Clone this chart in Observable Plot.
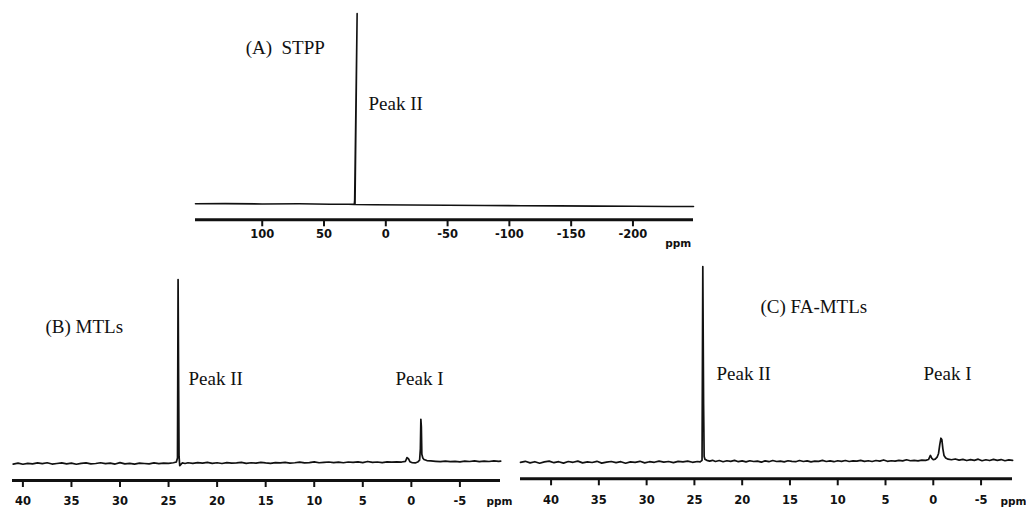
<!DOCTYPE html>
<html>
<head>
<meta charset="utf-8">
<script src="https://cdn.jsdelivr.net/npm/d3@7"></script>
<script src="https://cdn.jsdelivr.net/npm/@observablehq/plot@0.6"></script>
<style>
  html, body { margin: 0; padding: 0; background: #fff; }
  #chart { position: relative; width: 1026px; height: 507px; overflow: hidden; background: #fff; }
  #chart svg { position: absolute; left: 0; top: 0; background: transparent !important; overflow: visible; }
</style>
</head>
<body>
<div id="chart"></div>
<script>
// ---- tick labels ----
const ticksA = [100, 50, 0, -50, -100, -150, -200];
const ticksBC = [40, 35, 30, 25, 20, 15, 10, 5, 0, -5];

// ---- spectra: [ppm, intensity] (intensity: tallest peak = 100) ----
const spectrumA = [
  [154, 0.0], [130, 0.1], [100, -0.1], [70, 0.0], [45, -0.2], [30, -0.2], [25.5, -0.3],
  [25.2, 2], [23.2, 100], [24.9, -0.4],
  [10, -0.5], [-20, -0.6], [-50, -0.8], [-80, -0.9], [-110, -1.0], [-140, -1.1],
  [-170, -1.2], [-200, -1.3], [-230, -1.4], [-249, -1.4]
];

const spectrumB = [
  [41.0,-0.3],[40.5,0.2],[40.0,-0.4],[39.5,0.1],[39.0,-0.2],[38.5,0.3],[38.0,-0.1],[37.5,0.4],
  [37.0,-0.3],[36.5,0.0],[36.0,0.3],[35.5,-0.2],[35.0,0.2],[34.5,-0.4],[34.0,0.1],[33.5,0.3],
  [33.0,-0.2],[32.5,0.0],[32.0,0.4],[31.5,-0.1],[31.0,0.2],[30.5,-0.3],[30.0,0.5],[29.5,-0.2],
  [29.0,0.1],[28.5,-0.3],[28.0,0.2],[27.5,0.0],[27.0,-0.2],[26.5,0.3],[26.0,-0.1],[25.5,0.2],
  [25.0,0.1],[24.5,0.4],[24.2,0.8],[24.08,3],[24.02,100],[23.96,40],[23.92,4],[23.85,-1.2],
  [23.75,-0.6],[23.6,0.3],[23.3,0.0],[23.0,0.4],[22.5,0.1],[22.0,0.5],[21.5,0.2],[21.0,0.6],
  [20.5,0.1],[20.0,0.4],[19.5,0.0],[19.0,0.5],[18.5,0.2],[18.0,0.3],[17.5,0.6],[17.0,0.1],
  [16.5,0.4],[16.0,0.2],[15.5,0.6],[15.0,0.3],[14.5,0.1],[14.0,0.5],[13.5,0.3],[13.0,0.6],
  [12.5,0.2],[12.0,0.4],[11.5,0.7],[11.0,0.3],[10.5,0.5],[10.0,0.9],[9.5,0.4],[9.0,0.6],
  [8.5,0.8],[8.0,0.5],[7.5,0.7],[7.0,0.4],[6.5,0.8],[6.0,0.6],[5.5,0.9],[5.0,0.5],[4.5,1.1],
  [4.0,0.6],[3.5,0.8],[3.0,0.5],[2.5,0.9],[2.0,0.7],[1.5,0.9],[1.0,0.8],[0.6,1.2],[0.45,3.2],
  [0.3,2.6],[0.15,1.0],[-0.1,0.4],[-0.4,0.3],[-0.65,0.8],[-0.85,1.8],[-0.93,8],[-0.98,24],
  [-1.03,20],[-1.08,5],[-1.18,3],[-1.3,2.2],[-1.6,1.6],[-2.0,1.4],[-2.5,1.2],[-3.0,1.0],
  [-3.5,1.3],[-4.0,1.0],[-4.5,1.2],[-5.0,0.9],[-5.5,1.3],[-6.0,1.1],[-6.5,1.4],[-7.0,1.0],
  [-7.5,1.3],[-8.0,1.1],[-8.5,1.4],[-9.0,1.2],[-9.2,1.3]
];

const spectrumC = [
  [43.2,0.0],[42.7,0.5],[42.2,-0.3],[41.7,0.3],[41.2,-0.5],[40.7,0.2],[40.2,0.6],[39.7,-0.2],
  [39.2,0.3],[38.7,-0.4],[38.2,0.4],[37.7,0.0],[37.2,0.6],[36.7,-0.3],[36.2,0.2],[35.7,-0.1],
  [35.2,0.5],[34.7,-0.4],[34.2,0.1],[33.7,0.4],[33.2,-0.2],[32.7,0.3],[32.2,-0.5],[31.7,0.2],
  [31.2,0.0],[30.7,0.5],[30.2,-0.3],[29.7,0.3],[29.2,0.0],[28.7,0.6],[28.2,0.1],[27.7,0.4],
  [27.2,-0.2],[26.7,0.5],[26.2,0.2],[25.7,0.6],[25.2,0.0],[24.7,0.4],[24.4,0.2],[24.2,1.0],
  [24.12,100],[24.04,30],[23.98,3],[23.9,1.6],[23.7,1.0],[23.4,0.6],[23.1,1.0],[22.8,0.4],
  [22.4,0.9],[22.0,0.3],[21.6,0.8],[21.2,0.5],[20.8,1.0],[20.4,0.3],[20.0,0.7],[19.6,0.2],
  [19.2,0.8],[18.8,0.4],[18.4,0.6],[18.0,0.1],[17.6,0.7],[17.2,0.3],[16.8,0.9],[16.4,0.4],
  [16.0,0.6],[15.6,0.2],[15.2,0.8],[14.8,0.5],[14.4,0.3],[14.0,0.9],[13.6,0.4],[13.2,0.7],
  [12.8,0.2],[12.4,0.6],[12.0,0.5],[11.6,1.0],[11.2,0.4],[10.8,0.7],[10.4,0.3],[10.0,0.8],
  [9.6,0.5],[9.2,0.9],[8.8,0.4],[8.4,0.7],[8.0,0.6],[7.6,1.0],[7.2,0.5],[6.8,0.8],[6.4,0.4],
  [6.0,0.9],[5.6,0.6],[5.2,1.2],[4.8,0.5],[4.4,0.8],[4.0,0.6],[3.6,1.0],[3.2,0.7],[2.8,1.3],
  [2.4,0.8],[2.0,1.0],[1.6,0.7],[1.2,1.1],[0.8,1.0],[0.5,1.4],[0.3,3.5],[0.15,2.0],[0.0,1.3],
  [-0.2,1.6],[-0.4,2.6],[-0.55,4.5],[-0.68,9],[-0.8,12.3],[-0.9,11.5],[-1.0,7],[-1.12,3.5],
  [-1.3,2.2],[-1.55,1.6],[-1.9,1.3],[-2.3,1.7],[-2.7,1.1],[-3.1,1.5],[-3.5,0.9],[-3.9,1.4],
  [-4.3,1.0],[-4.7,1.6],[-5.1,0.8],[-5.5,1.3],[-5.9,0.9],[-6.3,1.5],[-6.7,1.0],[-7.1,1.4],
  [-7.5,0.8],[-7.9,1.2],[-8.3,1.0]
];

// ---- annotations (anchored in data coordinates) ----
const labelsA = [
  {text: "(A)  STPP", ppm: 113.4, y: 78.9},
  {text: "Peak II", ppm: 14.0, y: 49.5}
];
const labelsB = [
  {text: "(B) MTLs", ppm: 37.67, y: 70.7},
  {text: "Peak II", ppm: 22.95, y: 42.9},
  {text: "Peak I", ppm: 1.63, y: 42.9}
];
const labelsC = [
  {text: "(C) FA-MTLs", ppm: 18.09, y: 76.0},
  {text: "Peak II", ppm: 22.69, y: 41.8},
  {text: "Peak I", ppm: 1.03, y: 41.8}
];
const unitA = [{text: "ppm", ppm: -226.2, y: -20.7}];
const unitB = [{text: "ppm", ppm: -7.74, y: -20.9}];
const unitC = [{text: "ppm", ppm: -7.03, y: -20.0}];

const W = 1026, H = 507;
const serif = "Liberation Serif, Times New Roman, serif";
const sans = "DejaVu Sans, Verdana, sans-serif";

function panel({data, xDomain, yDomain, margins, ticks, tickPadding, labels, unit, strokeWidth}) {
  return Plot.plot({
    width: W,
    height: H,
    marginTop: margins[0],
    marginRight: margins[1],
    marginBottom: margins[2],
    marginLeft: margins[3],
    x: {domain: xDomain, label: null},
    y: {domain: yDomain, axis: null},
    marks: [
      Plot.ruleY([yDomain[0]], {stroke: "#111", strokeWidth: 3}),
      Plot.axisX({
        ticks: ticks,
        tickSize: 7,
        tickPadding: tickPadding,
        tickFormat: d => String(d),
        fontFamily: sans,
        fontSize: 11.5,
        fontWeight: "bold",
        fill: "#111",
        stroke: "#111",
        strokeWidth: 2,
        label: null
      }),
      Plot.line(data, {x: d => d[0], y: d => d[1], stroke: "#111", strokeWidth: strokeWidth, curve: "linear"}),
      Plot.text(labels, {x: "ppm", y: "y", text: "text", textAnchor: "start", lineAnchor: "bottom",
        fontFamily: serif, fontSize: 19, fill: "#111"}),
      Plot.text(unit, {x: "ppm", y: "y", text: "text", textAnchor: "start", lineAnchor: "middle",
        fontFamily: sans, fontSize: 10.5, fontWeight: "bold", fill: "#111"})
    ]
  });
}

const chart = document.getElementById("chart");

chart.append(panel({
  data: spectrumA, xDomain: [154, -249], yDomain: [-8.41, 100],
  margins: [13, 333, 287.7, 195], ticks: ticksA, tickPadding: 3,
  labels: labelsA, unit: unitA, strokeWidth: 1.6
}));
chart.append(panel({
  data: spectrumB, xDomain: [41.07, -9.18], yDomain: [-9.24, 100],
  margins: [279, 526, 27, 12], ticks: ticksBC, tickPadding: 9.7,
  labels: labelsB, unit: unitB, strokeWidth: 1.7
}));
chart.append(panel({
  data: spectrumC, xDomain: [43.2, -8.29], yDomain: [-8.43, 100],
  margins: [266, 14, 28.7, 520], ticks: ticksBC, tickPadding: 9.7,
  labels: labelsC, unit: unitC, strokeWidth: 1.7
}));

// tick labels: fill only, no outline stroke
chart.querySelectorAll("g[aria-label='x-axis tick label']").forEach(el => el.setAttribute("stroke", "none"));
</script>
</body>
</html>
